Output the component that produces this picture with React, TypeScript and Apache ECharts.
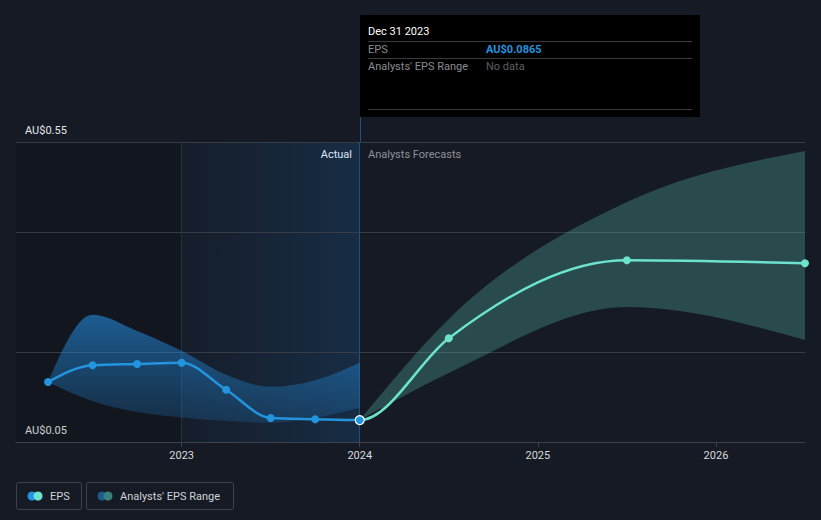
import React, { useEffect, useRef } from "react";
import * as echarts from "echarts";

const actualX = [2022.25, 2022.5, 2022.75, 2023, 2023.25, 2023.5, 2023.75, 2024];
const epsActual = [0.15, 0.178, 0.18, 0.182, 0.137, 0.09, 0.088, 0.0865];
const actualLow = [0.15, 0.118, 0.1, 0.091, 0.085, 0.082, 0.09, 0.107];
const actualHigh = [0.15, 0.262, 0.235, 0.202, 0.162, 0.142, 0.153, 0.182];

const forecastX = [2024, 2024.5, 2025.5, 2026.5];
const epsForecast = [0.0865, 0.223, 0.353, 0.348];
const forecastLow = [0.0865, 0.165, 0.275, 0.22];
const forecastHigh = [0.0865, 0.255, 0.45, 0.535];

const yearTicks = [2023, 2024, 2025, 2026];
const yLabels = [0.05, 0.55];
const gridValues = [0.2, 0.4, 0.55];

const FONT = "Roboto, 'Noto Sans', sans-serif";
const BLUE = "#2394df";
const TEAL = "#6de3cf";

type P = number[];

function tangents(p: P[]): number[] {
  const n = p.length;
  const m = new Array(n).fill(0);
  if (n < 2) return m;
  const sgn = (v: number) => (v < 0 ? -1 : 1);
  if (n === 2) {
    const s = (p[1][1] - p[0][1]) / (p[1][0] - p[0][0]);
    m[0] = m[1] = s;
    return m;
  }
  for (let i = 1; i < n - 1; i++) {
    const h0 = p[i][0] - p[i - 1][0];
    const h1 = p[i + 1][0] - p[i][0];
    const s0 = (p[i][1] - p[i - 1][1]) / h0;
    const s1 = (p[i + 1][1] - p[i][1]) / h1;
    const pp = (s0 * h1 + s1 * h0) / (h0 + h1);
    m[i] = (sgn(s0) + sgn(s1)) * Math.min(Math.abs(s0), Math.abs(s1), 0.5 * Math.abs(pp)) || 0;
  }
  m[0] = (3 * (p[1][1] - p[0][1]) / (p[1][0] - p[0][0]) - m[1]) / 2;
  m[n - 1] = (3 * (p[n - 1][1] - p[n - 2][1]) / (p[n - 1][0] - p[n - 2][0]) - m[n - 2]) / 2;
  return m;
}

function seg(p0: P, p1: P, m0: number, m1: number): string {
  const dx = (p1[0] - p0[0]) / 3;
  return `C${p0[0] + dx},${p0[1] + dx * m0},${p1[0] - dx},${p1[1] - dx * m1},${p1[0]},${p1[1]}`;
}

function segRev(p0: P, p1: P, m0: number, m1: number): string {
  // from p1 back to p0
  const dx = (p1[0] - p0[0]) / 3;
  return `C${p1[0] - dx},${p1[1] - dx * m1},${p0[0] + dx},${p0[1] + dx * m0},${p0[0]},${p0[1]}`;
}

function bandPath(up: P[], lo: P[]): string {
  const mu = tangents(up);
  const ml = tangents(lo);
  let d = `M${up[0][0]},${up[0][1]}`;
  for (let i = 0; i < up.length - 1; i++) d += seg(up[i], up[i + 1], mu[i], mu[i + 1]);
  d += `L${lo[lo.length - 1][0]},${lo[lo.length - 1][1]}`;
  for (let i = lo.length - 2; i >= 0; i--) d += segRev(lo[i], lo[i + 1], ml[i], ml[i + 1]);
  return d + "Z";
}

export default function App() {
  const ref = useRef<HTMLDivElement>(null);
  useEffect(() => {
    document.body.style.margin = "0";
    const chart = echarts.init(ref.current!, null, { renderer: "svg" });
    const pair = (xs: number[], ys: number[]) => xs.map((x, i) => [x, ys[i]]);

    const epsX = [...actualX, ...forecastX.slice(1)];
    const epsY = [...epsActual, ...epsForecast.slice(1)];
    const nActualSeg = actualX.length - 1;

    const bandSeries = (name: string, xs: number[], lo: number[], hi: number[], fill: any) => ({
      type: "custom",
      name,
      coordinateSystem: "cartesian2d",
      silent: true,
      z: 2,
      data: xs.map((x, i) => [x, lo[i], hi[i]]),
      encode: { x: 0, y: [1, 2] },
      renderItem: (params: any, api: any) => {
        if (params.dataIndex !== 0) return null;
        const up = xs.map((x, i) => api.coord([x, hi[i]]));
        const dn = xs.map((x, i) => api.coord([x, lo[i]]));
        return { type: "path", shape: { pathData: bandPath(up, dn) }, style: { fill, stroke: "none" } };
      },
    });

    const option: any = {
      animation: false,
      backgroundColor: "#151a24",
      textStyle: { fontFamily: FONT },
      grid: { left: 16, right: 16, top: 142, bottom: 78 },
      xAxis: {
        type: "value",
        min: 2022.07,
        max: 2026.5,
        axisLine: { show: true, lineStyle: { color: "#3d424c", width: 1 } },
        axisTick: { show: true, customValues: yearTicks, length: 5, lineStyle: { color: "#3d424c" } },
        axisLabel: {
          customValues: yearTicks,
          color: "#d8dadd",
          fontSize: 11,
          fontFamily: FONT,
          margin: 8,
          formatter: (v: number) => String(Math.round(v)),
        },
        splitLine: { show: false },
      },
      yAxis: {
        type: "value",
        min: 0.05,
        max: 0.55,
        axisLine: { show: false },
        axisTick: { show: false },
        splitLine: { show: false },
        axisLabel: {
          customValues: yLabels,
          inside: true,
          margin: 9,
          verticalAlign: "bottom",
          padding: [0, 0, 6, 0],
          color: "#e6e8ea",
          fontSize: 11,
          fontFamily: FONT,
          formatter: (v: number) => "AU$" + v.toFixed(2),
        },
      },
      series: [
        {
          type: "line",
          name: "bg",
          data: [],
          silent: true,
          z: 1,
          markArea: {
            silent: true,
            z: 1,
            data: [
              [
                { xAxis: 2022.07, itemStyle: { color: "rgba(0,0,0,0.12)" } },
                { xAxis: 2023 },
              ],
              [
                {
                  xAxis: 2023,
                  itemStyle: {
                    color: new echarts.graphic.LinearGradient(0, 0, 1, 0, [
                      { offset: 0, color: "rgba(30,110,190,0.04)" },
                      { offset: 1, color: "rgba(30,120,200,0.2)" },
                    ]),
                  },
                },
                { xAxis: 2024 },
              ],
            ],
          },
          markLine: {
            silent: true,
            z: 1,
            symbol: "none",
            label: { show: false },
            data: [
              ...gridValues.map((v) => ({ yAxis: v, lineStyle: { color: "#363b45", width: 1, type: "solid" } })),
              { xAxis: 2023, lineStyle: { color: "#1e3247", width: 1, type: "solid" } },
              { xAxis: 2024, lineStyle: { color: "#22507a", width: 1, type: "solid" } },
            ],
          },
        },
        bandSeries(
          "actualRange",
          actualX,
          actualLow,
          actualHigh,
          new echarts.graphic.LinearGradient(0, 0, 0, 1, [
            { offset: 0, color: "rgba(35,135,215,0.62)" },
            { offset: 1, color: "rgba(35,135,215,0.2)" },
          ])
        ),
        bandSeries("forecastRange", forecastX, forecastLow, forecastHigh, "rgba(90,190,175,0.3)"),
        {
          type: "custom",
          name: "EPS line",
          coordinateSystem: "cartesian2d",
          silent: true,
          z: 3,
          data: pair(epsX, epsY),
          encode: { x: 0, y: 1 },
          renderItem: (params: any, api: any) => {
            const i = params.dataIndex;
            if (i >= epsX.length - 1) return null;
            const pts = epsX.map((x, k) => api.coord([x, epsY[k]]));
            const m = tangents(pts);
            const d = `M${pts[i][0]},${pts[i][1]}` + seg(pts[i], pts[i + 1], m[i], m[i + 1]);
            return {
              type: "path",
              shape: { pathData: d },
              style: { fill: "none", stroke: i < nActualSeg ? BLUE : TEAL, lineWidth: 2.5, lineCap: "round" },
            };
          },
        },
        {
          type: "scatter",
          name: "EPS forecast",
          z: 4,
          symbol: "circle",
          symbolSize: 8,
          itemStyle: { color: TEAL, opacity: 1 },
          data: pair(forecastX, epsForecast).slice(1),
        },
        {
          type: "scatter",
          name: "EPS",
          z: 4,
          symbol: "circle",
          symbolSize: 8,
          itemStyle: { color: BLUE, opacity: 1 },
          data: pair(actualX, epsActual).map((d, i) =>
            i === actualX.length - 1
              ? { value: d, symbolSize: 9, itemStyle: { color: BLUE, borderColor: "#ffffff", borderWidth: 1.2 } }
              : { value: d }
          ),
        },
      ],
      graphic: [
        { type: "line", shape: { x1: 360.5, y1: 117, x2: 360.5, y2: 142 }, style: { stroke: "#22507a", lineWidth: 1 } },
        { type: "rect", shape: { x: 360, y: 15, width: 340, height: 102 }, style: { fill: "#000000" } },
        { type: "text", x: 368, y: 31, style: { text: "Dec 31 2023", fill: "#ffffff", fontSize: 11, fontFamily: FONT, verticalAlign: "middle" } },
        { type: "line", shape: { x1: 368, y1: 41.5, x2: 692, y2: 41.5 }, style: { stroke: "#3a3a3a", lineWidth: 1 } },
        { type: "text", x: 368, y: 49, style: { text: "EPS", fill: "#8a8d92", fontSize: 11, fontFamily: FONT, verticalAlign: "middle" } },
        { type: "text", x: 486, y: 49, style: { text: "AU$0.0865", fill: BLUE, fontSize: 11, fontWeight: "bold", fontFamily: FONT, verticalAlign: "middle" } },
        { type: "line", shape: { x1: 368, y1: 58.5, x2: 692, y2: 58.5 }, style: { stroke: "#3a3a3a", lineWidth: 1 } },
        { type: "text", x: 368, y: 66, style: { text: "Analysts' EPS Range", fill: "#8a8d92", fontSize: 11, fontFamily: FONT, verticalAlign: "middle" } },
        { type: "text", x: 486, y: 66, style: { text: "No data", fill: "#5c5f64", fontSize: 11, fontFamily: FONT, verticalAlign: "middle" } },
        { type: "line", shape: { x1: 368, y1: 109.5, x2: 692, y2: 109.5 }, style: { stroke: "#3a3a3a", lineWidth: 1 } },
        { type: "text", x: 352, y: 154, style: { text: "Actual", fill: "#ffffff", fontSize: 11, fontFamily: FONT, align: "right", verticalAlign: "middle" } },
        { type: "text", x: 368, y: 154, style: { text: "Analysts Forecasts", fill: "#8e9197", fontSize: 11, fontFamily: FONT, verticalAlign: "middle" } },
        { type: "rect", shape: { x: 16.5, y: 482.5, width: 65, height: 27, r: 2 }, style: { fill: "none", stroke: "#3d424c", lineWidth: 1 } },
        { type: "circle", shape: { cx: 32, cy: 496, r: 4.5 }, style: { fill: BLUE } },
        { type: "circle", shape: { cx: 38, cy: 496, r: 4.5 }, style: { fill: TEAL } },
        { type: "text", x: 50, y: 496, style: { text: "EPS", fill: "#d0d2d5", fontSize: 11, fontFamily: FONT, verticalAlign: "middle" } },
        { type: "rect", shape: { x: 86.5, y: 482.5, width: 147, height: 27, r: 2 }, style: { fill: "none", stroke: "#3d424c", lineWidth: 1 } },
        { type: "circle", shape: { cx: 102, cy: 496, r: 4.5 }, style: { fill: "#1e5a8a" } },
        { type: "circle", shape: { cx: 108, cy: 496, r: 4.5 }, style: { fill: "#3b7f7a" } },
        { type: "text", x: 120, y: 496, style: { text: "Analysts' EPS Range", fill: "#d0d2d5", fontSize: 11, fontFamily: FONT, verticalAlign: "middle" } },
      ],
    };
    chart.setOption(option);
    return () => chart.dispose();
  }, []);
  return <div ref={ref} style={{ position: "absolute", left: 0, top: 0, width: 821, height: 520 }} />;
}
